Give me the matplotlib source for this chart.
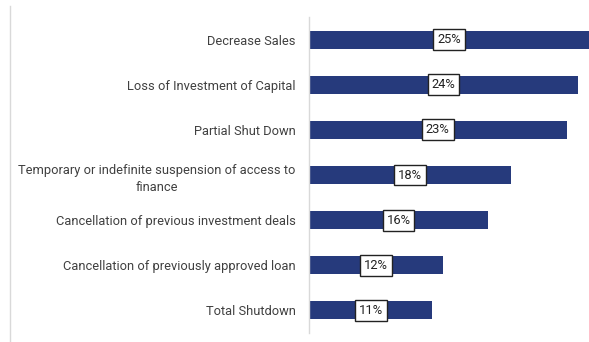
import matplotlib.pyplot as plt
from matplotlib.lines import Line2D

# ---------------------------------------------------
# DATA
# ---------------------------------------------------
categories = [
    "Decrease Sales",
    "Loss of Investment of Capital",
    "Partial Shut Down",
    "Temporary or indefinite suspension of access to\nfinance",
    "Cancellation of previous investment deals",
    "Cancellation of previously approved loan",
    "Total Shutdown",
]
values = [25, 24, 23, 18, 16, 12, 11]

bar_color = "#263a7c"
text_color = "#404040"

plt.rcParams["font.family"] = ["Roboto", "DejaVu Sans"]

# ---------------------------------------------------
# FIGURE
# ---------------------------------------------------
fig = plt.figure(figsize=(5.89, 3.42), dpi=100)
ax = fig.add_axes([309 / 589, 1 - 333 / 342, 1 - 309 / 589, (333 - 17) / 342])

y_pos = list(range(len(categories)))
ax.barh(y_pos, values, height=0.4, color=bar_color)

for y, v in zip(y_pos, values):
    ax.text(v / 2, y, f"{v}%", ha="center", va="center", fontsize=9.3,
            color="#222222",
            bbox=dict(boxstyle="square,pad=0.3", facecolor="white",
                      edgecolor="#222222", linewidth=1.0))

ax.set_xlim(0, 25)
ax.set_ylim(len(categories) - 0.5, -0.5)

ax.set_yticks(y_pos)
ax.set_yticklabels(categories, fontsize=9.3, color=text_color,
                   multialignment="center", linespacing=1.45)
ax.tick_params(axis="y", length=0, pad=9.5)
ax.set_xticks([])

for side in ["top", "right", "bottom"]:
    ax.spines[side].set_visible(False)
ax.spines["left"].set_color("#d9d9d9")
ax.spines["left"].set_linewidth(1.0)

# thin border on the left edge of the figure
fig.add_artist(Line2D([10 / 589, 10 / 589], [0, 1 - 6 / 342],
                      transform=fig.transFigure, color="#d9d9d9",
                      linewidth=1.0))

fig.savefig("out.png", dpi=100)
